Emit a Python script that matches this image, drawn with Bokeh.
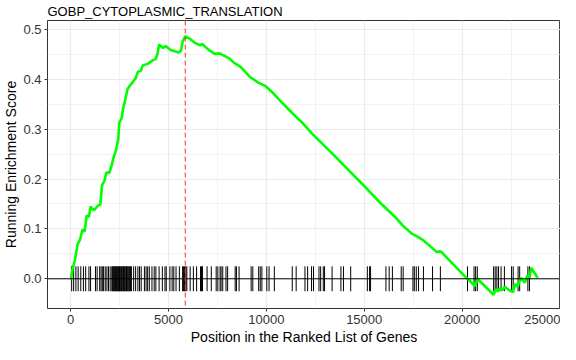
from bokeh.plotting import figure
from bokeh.models import Range1d, FixedTicker, PrintfTickFormatter, Span, Title
from bokeh.embed import file_html
from bokeh.resources import INLINE

TITLE = "GOBP_CYTOPLASMIC_TRANSLATION"
X_LABEL = "Position in the Ranked List of Genes"
Y_LABEL = "Running Enrichment Score"

# running enrichment score
es_x = [0, 25, 110, 225, 360, 490, 610, 725, 825, 940,
        1025, 1190, 1390, 1525, 1610, 1740, 1825, 1990, 2110, 2190,
        2325, 2440, 2490, 2610, 2690, 2810, 2910, 3025, 3190, 3325,
        3440, 3610, 3690, 3940, 4190, 4360, 4440, 4525, 4725, 4860,
        5110, 5360, 5525, 5640, 5725, 5860, 6110, 6360, 6610, 6725,
        7025, 7360, 7610, 7860, 8110, 8360, 8690, 9190, 9610, 9940,
        10360, 10860, 11360, 11860, 12360, 13400, 14300, 15150, 15800, 16525,
        16940, 17440, 17610, 18025, 18440, 18690, 18910, 20190, 20360, 20660,
        20775, 21610, 21700, 21850, 21930, 22050, 22180, 22380, 22600, 22700,
        22830, 23000, 23200, 23330, 23450, 23525, 23860]
es_y = [0.0, 0.0, 0.021, 0.037, 0.069, 0.079, 0.098, 0.095, 0.127, 0.124,
        0.145, 0.137, 0.146, 0.149, 0.188, 0.197, 0.213, 0.213, 0.229, 0.242,
        0.258, 0.281, 0.313, 0.322, 0.342, 0.361, 0.380, 0.387, 0.395, 0.402,
        0.415, 0.418, 0.428, 0.431, 0.438, 0.441, 0.451, 0.470, 0.463, 0.467,
        0.459, 0.456, 0.454, 0.457, 0.476, 0.486, 0.481, 0.473, 0.468, 0.471,
        0.460, 0.451, 0.452, 0.447, 0.442, 0.433, 0.425, 0.404, 0.393, 0.387,
        0.372, 0.351, 0.331, 0.312, 0.290, 0.250, 0.214, 0.180, 0.153, 0.126,
        0.108, 0.090, 0.087, 0.077, 0.063, 0.054, 0.055, 0.003, -0.003, -0.015,
        0.0, -0.032, -0.022, -0.025, -0.019, -0.023, -0.016, -0.022, -0.027, -0.010,
        -0.016, 0.002, -0.008, 0.006, 0.002, 0.022, 0.002]

# positions of the gene-set members in the ranked list
hits = [60, 160, 275, 390, 525, 660, 775, 940, 1025, 1275, 1360, 1490, 1560, 1625,
        1690, 1775, 1860, 1940, 2025, 2110, 2150, 2190, 2230, 2260, 2300, 2340, 2370,
        2410, 2440, 2470, 2500, 2530, 2570, 2600, 2640, 2680, 2710, 2750, 2790, 2830,
        2860, 2900, 2940, 2980, 3020, 3060, 3110, 3225, 3325, 3440, 3525, 3610, 3775,
        3860, 3940, 4025, 4160, 4275, 4360, 4525, 4690, 4825, 4890, 5075, 5190, 5275,
        5390, 5560, 5725, 5775, 5825, 5890, 5940, 6110, 6275, 6440, 6640, 6690, 6740,
        6975, 7190, 7440, 7525, 7640, 7690, 7775, 7940, 8025, 8410, 8475, 8610, 9225,
        9310, 9610, 9690, 9775, 10025, 10140, 10410, 11325, 11525, 11975, 12110, 12310,
        12410, 12690, 12775, 12910, 12975, 13360, 13810, 13940, 14310, 15160, 15275,
        15325, 16110, 16275, 16440, 16890, 16990, 17490, 17560, 17660, 17775, 18025,
        18490, 18890, 20275, 20610, 20690, 20775, 21610, 21690, 21775, 21860, 21990,
        22160, 22525, 22610, 22860, 22940, 23360, 23440]

peak_x = 5860
x_ticks = [0, 5000, 10000, 15000, 20000, 25000]
x_minor = [2500, 7500, 12500, 17500, 22500]
y_ticks = [0.0, 0.1, 0.2, 0.3, 0.4, 0.5]
y_minor = [0.05, 0.15, 0.25, 0.35, 0.45]

p = figure(width=560, height=344, output_backend="svg", toolbar_location=None,
           x_range=Range1d(-1175, 25025), y_range=Range1d(-0.0596, 0.518),
           title=TITLE, min_border_left=0, min_border_right=0,
           min_border_top=0, min_border_bottom=0)

p.title.text_font = "Liberation Sans"
p.title.text_font_size = "13px"
p.title.text_font_style = "normal"
p.title.text_color = "black"
p.title.align = "left"
p.title.standoff = 3

p.background_fill_color = "white"
p.border_fill_color = "white"
p.outline_line_color = "#333333"
p.outline_line_width = 1

p.xaxis.ticker = FixedTicker(ticks=x_ticks, minor_ticks=x_minor)
p.yaxis.ticker = FixedTicker(ticks=y_ticks, minor_ticks=y_minor)
p.xaxis.formatter = PrintfTickFormatter(format="%d")
p.yaxis.formatter = PrintfTickFormatter(format="%.1f")
p.yaxis.axis_label = Y_LABEL

for ax in (p.xaxis, p.yaxis):
    ax.axis_line_color = None
    ax.major_tick_line_color = "#333333"
    ax.major_tick_out = 3
    ax.major_tick_in = 0
    ax.minor_tick_line_color = None
    ax.major_label_text_font = "Liberation Sans"
    ax.major_label_text_font_size = "13px"
    ax.major_label_text_color = "#333333"
    ax.major_label_standoff = 2
    ax.axis_label_text_font = "Liberation Sans"
    ax.axis_label_text_font_size = "14px"
    ax.axis_label_text_font_style = "normal"
    ax.axis_label_text_color = "black"
    ax.axis_label_standoff = 1

xlab = Title(text=X_LABEL, align="center", text_font="Liberation Sans",
             text_font_size="14px", text_font_style="normal", text_color="black",
             standoff=0)
p.add_layout(xlab, "below")

for g in (p.xgrid, p.ygrid):
    g.grid_line_color = "#EBEBEB"
    g.grid_line_width = 1.2
    g.minor_grid_line_color = "#EBEBEB"
    g.minor_grid_line_width = 0.6

p.segment(x0=hits, y0=[-0.025] * len(hits), x1=hits, y1=[0.025] * len(hits),
          line_color="black", line_width=1)

p.add_layout(Span(location=0, dimension="width", line_color="black", line_width=1))
p.add_layout(Span(location=peak_x, dimension="height", line_color="#FF3030",
                  line_width=1, line_dash="5 3"))

p.line(es_x, es_y, line_color="#00FF00", line_width=2.6)

open("out.html", "w").write(file_html(p, INLINE))
